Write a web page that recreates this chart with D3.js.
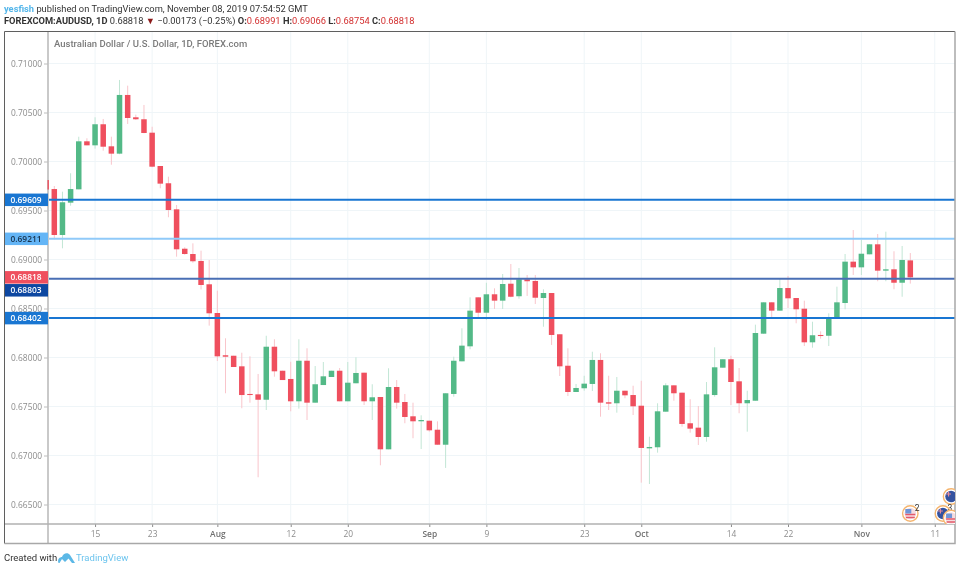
<!DOCTYPE html>
<html>
<head>
<meta charset="utf-8">
<script src="https://cdn.jsdelivr.net/npm/d3@7"></script>
<style>
  html, body { margin: 0; padding: 0; background: #fff; }
  svg { display: block; font-family: Roboto, sans-serif; filter: blur(0.35px); }
  .tick text, .level-label text { font-family: "Open Sans", sans-serif; }
</style>
</head>
<body>
<div id="wrapper"></div>
<script>
const opens = [
  0.69811,0.69719,0.69250,0.69580,0.69716,0.70206,0.70165,0.70380,0.70155,0.70080,
  0.70679,0.70451,0.70431,0.70294,0.69954,0.69778,0.69512,0.69110,0.69056,0.68985,
  0.68747,0.68454,0.68023,0.68018,0.67910,0.67628,0.67624,0.67569,0.68110,0.67865,
  0.67781,0.67553,0.67967,0.67539,0.67719,0.67801,0.67865,0.67553,0.67737,0.67845,
  0.67553,0.67597,0.67063,0.67699,0.67546,0.67400,0.67349,0.67355,0.67263,0.67110,
  0.67628,0.67961,0.68114,0.68614,0.68457,0.68645,0.68580,0.68753,0.68625,0.68798,
  0.68781,0.68607,0.68658,0.68237,0.67916,0.67648,0.67686,0.67730,0.67975,0.67543,
  0.67533,0.67661,0.67617,0.67508,0.67073,0.67084,0.67447,0.67716,0.67641,0.67329,
  0.67284,0.67189,0.67617,0.67896,0.67982,0.67757,0.67533,0.67559,0.68243,0.68563,
  0.68478,0.68709,0.68607,0.68498,0.68155,0.68230,0.68222,0.68393,0.68556,0.68978,
  0.68920,0.69053,0.69155,0.68886,0.68900,0.68763,0.68991,
]
const highs = [
  0.69832,0.69750,0.69692,0.69880,0.70253,0.70237,0.70451,0.70434,0.70253,0.70832,
  0.70774,0.70478,0.70577,0.70355,0.69954,0.69845,0.69556,0.69125,0.69165,0.69090,
  0.68995,0.68682,0.68196,0.68018,0.68049,0.68012,0.67832,0.68222,0.68186,0.67865,
  0.67957,0.68186,0.68094,0.67913,0.67954,0.67865,0.67893,0.67954,0.68002,0.67845,
  0.67727,0.67597,0.67890,0.67770,0.67628,0.67539,0.67410,0.67355,0.67349,0.67635,
  0.68008,0.68298,0.68614,0.68614,0.68763,0.68706,0.68852,0.68954,0.68913,0.68842,
  0.68842,0.68696,0.68658,0.68237,0.68094,0.67730,0.67814,0.68059,0.68043,0.67814,
  0.67801,0.67661,0.67712,0.67763,0.67192,0.67533,0.67737,0.67716,0.67641,0.67574,
  0.67505,0.67750,0.68104,0.67982,0.68018,0.67893,0.67661,0.68335,0.68563,0.68563,
  0.68811,0.68832,0.68607,0.68580,0.68365,0.68267,0.68451,0.68723,0.69056,0.69301,
  0.69199,0.69155,0.69260,0.69284,0.69084,0.69138,0.69066,
]
const lows = [
  0.69709,0.69206,0.69114,0.69549,0.69716,0.70165,0.70131,0.70110,0.69967,0.70074,
  0.70383,0.70424,0.70288,0.69941,0.69727,0.69431,0.69029,0.69049,0.68967,0.68694,
  0.68325,0.67964,0.67635,0.67903,0.67482,0.67539,0.66778,0.67464,0.67804,0.67770,
  0.67451,0.67478,0.67362,0.67539,0.67719,0.67801,0.67553,0.67553,0.67737,0.67515,
  0.67362,0.66900,0.67063,0.67478,0.67329,0.67176,0.67066,0.67243,0.67110,0.66873,
  0.67600,0.67961,0.68084,0.68410,0.68383,0.68495,0.68495,0.68614,0.68600,0.68628,
  0.68546,0.68314,0.68128,0.67811,0.67607,0.67648,0.67661,0.67658,0.67396,0.67464,
  0.67437,0.67584,0.67413,0.66723,0.66709,0.67029,0.67447,0.67559,0.67294,0.67233,
  0.67107,0.67141,0.67600,0.67896,0.67515,0.67431,0.67243,0.67559,0.68243,0.68406,
  0.68478,0.68505,0.68349,0.68117,0.68100,0.68192,0.68117,0.68393,0.68492,0.68842,
  0.68842,0.69053,0.68778,0.68778,0.68696,0.68620,0.68754,
]
const closes = [
  0.69714,0.69250,0.69584,0.69719,0.70206,0.70165,0.70380,0.70151,0.70080,0.70679,
  0.70444,0.70431,0.70291,0.69947,0.69774,0.69505,0.69104,0.69056,0.68982,0.68740,
  0.68451,0.68012,0.68008,0.67903,0.67617,0.67617,0.67569,0.68110,0.67859,0.67770,
  0.67553,0.67967,0.67539,0.67727,0.67808,0.67865,0.67553,0.67743,0.67842,0.67553,
  0.67594,0.67063,0.67699,0.67539,0.67393,0.67349,0.67362,0.67257,0.67110,0.67635,
  0.67967,0.68121,0.68478,0.68457,0.68645,0.68580,0.68750,0.68620,0.68798,0.68778,
  0.68610,0.68658,0.68230,0.67910,0.67648,0.67689,0.67733,0.67975,0.67539,0.67529,
  0.67661,0.67614,0.67502,0.67077,0.67087,0.67451,0.67716,0.67635,0.67322,0.67274,
  0.67189,0.67624,0.67900,0.67982,0.67750,0.67533,0.67566,0.68250,0.68563,0.68478,
  0.68709,0.68604,0.68492,0.68155,0.68227,0.68219,0.68396,0.68563,0.68978,0.68920,
  0.69059,0.69155,0.68886,0.68900,0.68763,0.68995,0.68818,
]

const priceTicks = [0.665, 0.67, 0.675, 0.68, 0.685, 0.69, 0.695, 0.70, 0.705, 0.71]
const timeTickBars = [6, 13, 21, 30, 37, 47, 54, 66, 73, 84, 91, 100, 109]
const timeTickLabels = ["15", "23", "Aug", "12", "20", "Sep", "9", "23", "Oct", "14", "22", "Nov", "11"]
const monthLabels = ["Aug", "Sep", "Oct", "Nov"]

// horizontal lines drawn on the chart
const lineLevels = [0.69609, 0.69211, 0.68803, 0.68402]
const lastPrice = 0.68818

const eventBars = [111, 110, 111, 106]
const eventKinds = ["au", "au", "us", "us"]
const eventCounts = ["", "3", "", "2"]

async function drawChart() {

  // 1. Access data

  const dataset = opens.map((open, i) => ({
    bar: i,
    open: open,
    high: highs[i],
    low: lows[i],
    close: closes[i],
  }))
  const xAccessor = d => d.bar
  const isUp = d => d.close >= d.open

  // 2. Create chart dimensions

  let dimensions = {
    width: 960,
    height: 570,
    frameLeft: 4.5,
    frameRight: 955,
    frameTop: 31.5,
    frameBottom: 543.5,
    axisLeft: 48,
    axisBottom: 524,
  }

  const colors = {
    up: "#53b987",
    down: "#ef4f5e",
    upWick: "#c2e6d5",
    downWick: "#f9c5cb",
    grid: "#eff5f8",
    tick: "#8c8c8c",
    axisLine: "#bdbdbd",
  }

  const lineColors = ["#1976d2", "#90caf9", "#4a6fb5", "#1976d2"]
  const labelColors = ["#1976d2", "#64b5f6", "#0d47a1", "#1976d2"]
  const labelTextColors = ["#fff", "#17324d", "#fff", "#fff"]
  const labelShifts = [0, 0, 11.5, 0]

  // 3. Draw canvas

  const wrapper = d3.select("#wrapper")
    .append("svg")
    .attr("width", dimensions.width)
    .attr("height", dimensions.height)

  wrapper.append("defs").append("clipPath")
    .attr("id", "plot-clip")
    .append("rect")
    .attr("x", dimensions.axisLeft - 0.5)
    .attr("y", dimensions.frameTop)
    .attr("width", dimensions.frameRight - dimensions.axisLeft + 0.5)
    .attr("height", dimensions.axisBottom - dimensions.frameTop)

  wrapper.append("clipPath")
    .attr("id", "frame-clip")
    .append("rect")
    .attr("x", dimensions.frameLeft)
    .attr("y", dimensions.frameTop)
    .attr("width", dimensions.frameRight - dimensions.frameLeft)
    .attr("height", dimensions.axisBottom - dimensions.frameTop)

  // 4. Create scales

  const xScale = d3.scaleLinear()
    .domain([0, dataset.length - 1])
    .range([46.15, 910.3])

  const yScale = d3.scaleLinear()
    .domain([0.665, 0.71])
    .range([504.5, 63.5])

  // 5. Draw peripherals that sit under the data

  wrapper.append("line")
    .attr("x1", dimensions.axisLeft)
    .attr("x2", dimensions.axisLeft)
    .attr("y1", dimensions.frameTop)
    .attr("y2", dimensions.frameBottom)
    .attr("stroke", "#c9c9c9")
    .attr("stroke-width", 2)

  const plot = wrapper.append("g")
    .attr("clip-path", "url(#plot-clip)")

  plot.selectAll(".grid-x")
    .data(timeTickBars)
    .join("line")
    .attr("class", "grid-x")
    .attr("x1", d => xScale(d))
    .attr("x2", d => xScale(d))
    .attr("y1", dimensions.frameTop)
    .attr("y2", dimensions.axisBottom)
    .attr("stroke", colors.grid)

  plot.selectAll(".grid-y")
    .data(priceTicks)
    .join("line")
    .attr("class", "grid-y")
    .attr("x1", dimensions.axisLeft + 1)
    .attr("x2", dimensions.frameRight)
    .attr("y1", d => yScale(d))
    .attr("y2", d => yScale(d))
    .attr("stroke", colors.grid)

  // 6. Draw data

  plot.selectAll(".wick")
    .data(dataset)
    .join("line")
    .attr("class", "wick")
    .attr("x1", d => xScale(xAccessor(d)))
    .attr("x2", d => xScale(xAccessor(d)))
    .attr("y1", d => yScale(d.high))
    .attr("y2", d => yScale(d.low))
    .attr("stroke", d => isUp(d) ? colors.upWick : colors.downWick)
    .attr("stroke-width", 1)

  plot.selectAll(".body")
    .data(dataset)
    .join("rect")
    .attr("class", "body")
    .attr("x", d => xScale(xAccessor(d)) - 2.75)
    .attr("width", 5.5)
    .attr("y", d => yScale(Math.max(d.open, d.close)))
    .attr("height", d => Math.max(1, Math.abs(yScale(d.open) - yScale(d.close))))
    .attr("fill", d => isUp(d) ? colors.up : colors.down)

  plot.selectAll(".level")
    .data(lineLevels)
    .join("line")
    .attr("class", "level")
    .attr("x1", dimensions.axisLeft + 1)
    .attr("x2", dimensions.frameRight)
    .attr("y1", d => yScale(d))
    .attr("y2", d => yScale(d))
    .attr("stroke", (d, i) => lineColors[i])
    .attr("stroke-width", 2)

  // 7. Draw axes

  const yAxisGenerator = d3.axisLeft()
    .scale(yScale)
    .tickValues(priceTicks)
    .tickFormat(d3.format(".5f"))
    .tickSize(4)
    .tickPadding(2)

  const yAxis = wrapper.append("g")
    .attr("transform", `translate(${dimensions.axisLeft}, 0)`)
    .call(yAxisGenerator)
  yAxis.select(".domain").remove()
  yAxis.selectAll("line").attr("stroke", colors.axisLine)
  yAxis.selectAll("text")
    .attr("fill", colors.tick)
    .style("font-size", "8.4px")

  const xAxisGenerator = d3.axisBottom()
    .scale(xScale)
    .tickValues(timeTickBars)
    .tickFormat((d, i) => timeTickLabels[i])
    .tickSize(3)
    .tickPadding(4)

  const xAxis = wrapper.append("g")
    .attr("transform", `translate(0, ${dimensions.axisBottom})`)
    .call(xAxisGenerator)
  xAxis.select(".domain").remove()
  xAxis.selectAll("line").attr("stroke", colors.tick)
  xAxis.selectAll("text")
    .attr("fill", colors.tick)
    .style("font-size", "8.4px")
    .filter((d, i) => monthLabels.includes(timeTickLabels[i]))
    .attr("fill", "#6f6f6f")
    .style("font-weight", 600)

  // 8. Draw the labels of the horizontal lines

  const labelHeight = 12.5
  const labels = lineLevels.map((level, i) => ({
    level, fill: labelColors[i], text: labelTextColors[i], shift: labelShifts[i],
  }))
  labels.push({ level: lastPrice, fill: colors.down, text: "#fff", shift: 0 })

  const labelGroups = wrapper.selectAll(".level-label")
    .data(labels)
    .join("g")
    .attr("class", "level-label")
    .attr("transform", d => `translate(0, ${yScale(d.level) + d.shift})`)

  labelGroups.append("rect")
    .attr("x", dimensions.frameLeft)
    .attr("y", -labelHeight / 2)
    .attr("width", dimensions.axisLeft - dimensions.frameLeft)
    .attr("height", labelHeight)
    .attr("fill", d => d.fill)

  labelGroups.append("text")
    .attr("x", 41.5)
    .attr("dy", "0.35em")
    .attr("text-anchor", "end")
    .attr("fill", d => d.text)
    .style("font-size", "8.4px")
    .style("font-weight", 600)
    .text(d => d3.format(".5f")(d.level))

  // 9. Draw the frame

  wrapper.append("line")
    .attr("x1", dimensions.frameLeft)
    .attr("x2", dimensions.frameRight)
    .attr("y1", dimensions.axisBottom)
    .attr("y2", dimensions.axisBottom)
    .attr("stroke", "#b0b0b0")
    .attr("stroke-width", 1.5)

  wrapper.append("path")
    .attr("d", `M${dimensions.frameLeft},${dimensions.frameBottom}`
      + `V${dimensions.frameTop}H${dimensions.frameRight}`)
    .attr("fill", "none")
    .attr("stroke", "#5f5f5f")

  wrapper.append("path")
    .attr("d", `M${dimensions.frameLeft},${dimensions.frameBottom}`
      + `H${dimensions.frameRight}V${dimensions.frameTop}`)
    .attr("fill", "none")
    .attr("stroke", "#a8a8a8")
    .attr("stroke-width", 1.5)

  // 10. Draw the event icons at the bottom right

  const eventGroup = wrapper.append("g")
    .attr("clip-path", "url(#frame-clip)")

  const eventRows = [496.5, 513.5, 518, 513.5]
  const icons = eventGroup.selectAll(".event")
    .data(eventBars)
    .join("g")
    .attr("class", "event")
    .attr("transform", (d, i) => `translate(${xScale(d)}, ${eventRows[i]})`)

  icons.append("circle")
    .attr("r", 7.7)
    .attr("fill", "#fff")
    .attr("stroke", "#f5b56f")
    .attr("stroke-width", 1.4)

  icons.append("circle")
    .attr("r", 5.8)
    .attr("fill", (d, i) => eventKinds[i] == "au" ? "#34529f" : "#f6dcdf")

  icons.filter((d, i) => eventKinds[i] == "us")
    .append("path")
    .attr("d", "M-5,1H5M-4.5,4H4.5")
    .attr("stroke", "#e3596b")
    .attr("stroke-width", 1.4)

  icons.filter((d, i) => eventKinds[i] == "us")
    .append("rect")
    .attr("x", -5)
    .attr("y", -4.5)
    .attr("width", 6)
    .attr("height", 4.5)
    .attr("fill", "#6f95d8")

  icons.filter((d, i) => eventKinds[i] == "au")
    .append("path")
    .attr("d", "M-5,-2.5H0M-2.5,-5V0")
    .attr("stroke", "#e58a99")
    .attr("stroke-width", 1.2)

  icons.append("text")
    .attr("x", 4.5)
    .attr("y", -3)
    .attr("fill", "#333")
    .style("font-size", "8.5px")
    .text((d, i) => eventCounts[i])

  // 11. Draw the header and footer texts

  const header = wrapper.append("text")
    .attr("x", 4)
    .attr("y", 12)
    .attr("fill", "#333")
    .style("font-size", "9.3px")
  header.append("tspan")
    .attr("fill", "#54b6ea")
    .style("font-weight", 700)
    .text("yesfish")
  header.append("tspan")
    .text(" published on TradingView.com, November 08, 2019 07:54:52 GMT")

  const quote = wrapper.append("text")
    .attr("x", 4)
    .attr("y", 24)
    .attr("fill", "#333")
    .style("font-size", "9.3px")
  const quoteParts = [
    ["FOREXCOM:AUDUSD, 1D", "b"],
    [" 0.68818 ", ""],
    ["▼", "t"],
    [" −0.00173 (−0.25%) ", ""],
    ["O:", "b"], ["0.68991 ", "v"],
    ["H:", "b"], ["0.69066 ", "v"],
    ["L:", "b"], ["0.68754 ", "v"],
    ["C:", "b"], ["0.68818", "v"],
  ]
  quote.selectAll("tspan")
    .data(quoteParts)
    .join("tspan")
    .attr("fill", d => d[1] == "v" ? "#d32f2f" : d[1] == "t" ? "#8b1a1a" : "#333")
    .style("font-weight", d => d[1] == "b" ? 700 : 400)
    .text(d => d[0])

  wrapper.append("text")
    .attr("x", 54)
    .attr("y", 46.5)
    .attr("fill", "#7b7b7b")
    .style("font-size", "9.5px")
    .style("font-weight", 500)
    .text("Australian Dollar / U.S. Dollar, 1D, FOREX.com")

  wrapper.append("text")
    .attr("x", 4)
    .attr("y", 560.5)
    .attr("fill", "#333")
    .style("font-size", "9.5px")
    .text("Created with")

  wrapper.append("path")
    .attr("d", "M58.5,563 C57,559 60,557 62,557 C63,553 68,552 70,555 L75,563 L72,563 L68.5,558.5 L65,562 L62,559 L59.5,563 Z")
    .attr("fill", "#5cb8e6")

  wrapper.append("text")
    .attr("x", 76)
    .attr("y", 560.5)
    .attr("fill", "#6cc4ee")
    .style("font-size", "9.5px")
    .text("TradingView")
}
drawChart()
</script>
</body>
</html>
